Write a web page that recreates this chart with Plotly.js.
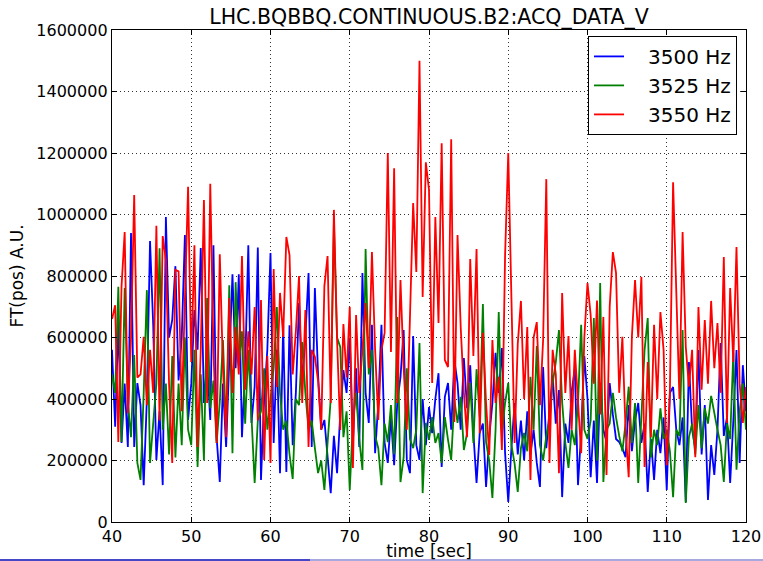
<!DOCTYPE html>
<html>
<head>
<meta charset="utf-8">
<script src="https://cdn.plot.ly/plotly-3.0.1.min.js"></script>
<style>
html,body{margin:0;padding:0;background:#fff;}
#chart{width:763px;height:561px;}
</style>
</head>
<body>
<div id="chart"></div>
<script>
// time axis: samples every 0.4 s starting at 40 s
const tStart = 40;
const tStep = 0.4;

// FT(pos) amplitudes in thousands of A.U.
const hz3500 = [
560,310,650,257,450,244,940,244,452,380,
120,400,914,640,202,360,120,992,600,657,
832,460,600,933,332,450,689,560,891,387,
520,332,900,276,130,450,244,560,806,500,
806,276,500,900,322,440,893,137,400,560,
875,257,560,159,640,163,640,250,420,712,
450,602,810,244,761,480,300,332,220,94,
280,159,350,494,420,598,260,500,244,810,
420,322,641,224,387,641,257,192,340,185,
390,470,624,202,159,605,250,202,400,250,
374,289,400,484,179,407,452,300,527,452,
300,533,370,510,289,127,290,320,114,276,
387,550,420,566,224,65,240,387,220,330,
200,360,220,300,192,114,504,240,360,477,
320,429,81,320,257,423,500,120,290,540,
400,146,330,127,452,300,260,452,350,270,
260,240,211,380,230,330,387,257,320,98,
270,137,300,224,340,104,420,439,300,250,
340,65,520,300,240,559,220,380,72,250,
153,300,582,280,340,127,330,559,192,510,
360];

const hz3525 = [
480,420,765,260,761,387,276,543,192,137,
420,754,192,332,450,890,300,450,220,540,
210,450,250,600,300,250,560,179,480,200,
728,370,460,257,390,592,300,770,224,780,
510,620,320,560,320,127,330,360,500,300,
400,500,699,420,300,330,220,140,400,380,
585,420,300,330,240,159,200,104,257,400,
972,600,569,276,360,104,330,420,270,169,
888,480,560,280,240,120,320,260,380,220,
667,130,210,500,270,240,300,582,94,322,
267,341,257,289,192,341,267,202,397,322,
407,234,289,452,257,497,341,709,260,200,
78,300,683,290,387,452,250,190,98,240,
290,230,472,300,572,250,200,280,330,452,
520,624,390,257,176,300,250,387,641,300,
270,330,663,200,777,130,300,320,420,340,
280,230,320,440,257,387,127,330,559,663,
210,300,250,370,270,300,230,81,300,280,
624,62,276,320,220,380,240,370,320,410,
350,300,250,130,320,270,550,170,360,450,
300];

const hz3550 = [
660,705,260,765,943,354,600,1063,470,480,
602,380,560,420,963,330,930,852,450,192,
820,815,360,740,1090,520,900,244,560,1047,
387,1100,560,257,871,500,276,728,420,634,
480,865,430,620,480,699,330,722,202,540,
192,823,439,745,602,927,868,480,620,800,
387,689,244,560,537,460,300,767,865,387,
1015,592,299,644,470,700,176,673,420,560,
712,500,878,560,332,560,615,1200,553,1150,
387,787,504,300,641,1037,813,1500,732,1170,
1080,452,992,647,1232,527,504,1245,325,933,
634,420,276,855,540,888,289,615,387,218,
592,387,472,234,868,1200,728,257,580,719,
400,634,137,600,650,380,592,1115,192,560,
480,159,745,420,605,300,560,400,224,600,
777,673,450,720,350,667,153,700,878,810,
420,602,300,146,602,787,600,797,179,520,
276,641,400,683,560,185,430,1105,754,400,
943,570,440,560,211,699,430,657,450,719,
500,647,420,862,322,761,520,894,450,322,
439];

const seriesNames = ['3500 Hz', '3525 Hz', '3550 Hz'];
const seriesColors = ['#0000ff', '#008000', '#ff0000'];
const seriesData = [hz3500, hz3525, hz3550];

const xTickVals = [40, 50, 60, 70, 80, 90, 100, 110, 120];
const yTickVals = [0, 200000, 400000, 600000, 800000, 1000000, 1200000, 1400000, 1600000];

const pad = '\u00a0\u00a0\u00a0';
const traces = seriesData.map((arr, k) => ({
  type: 'scatter',
  mode: 'lines',
  name: pad + seriesNames[k],
  x: arr.map((_, i) => tStart + i * tStep),
  y: arr.map(v => v * 1000),
  line: {color: seriesColors[k], width: 1.8},
  hoverinfo: 'skip'
}));

const axisCommon = {
  showline: true, linecolor: '#000', linewidth: 1.2, mirror: 'ticks',
  ticks: 'inside', ticklen: 5, tickcolor: '#000', tickwidth: 1,
  showgrid: true, gridcolor: '#000', gridwidth: 0.8, griddash: '1px,3px',
  zeroline: false, tickfont: {size: 16, color: '#000'}
};

const layout = {
  width: 763, height: 561,
  margin: {l: 112, r: 17, t: 30, b: 39, pad: 0},
  paper_bgcolor: '#fff', plot_bgcolor: '#fff',
  font: {family: 'DejaVu Sans', color: '#000'},
  showlegend: true,
  title: {text: 'LHC.BQBBQ.CONTINUOUS.B2:ACQ_DATA_V', font: {size: 20.5, color: '#000'},
          x: 0.5, xref: 'paper', xanchor: 'center', y: (561 - 17) / 561, yref: 'container', yanchor: 'middle'},
  xaxis: Object.assign({}, axisCommon, {
    range: [40, 120], tickvals: xTickVals, ticktext: xTickVals.map(String),
    title: {text: 'time [sec]', font: {size: 17}, standoff: 5}
  }),
  yaxis: Object.assign({}, axisCommon, {
    range: [0, 1600000], tickvals: yTickVals, ticktext: yTickVals.map(String),
    title: {text: 'FT(pos) A.U.', font: {size: 17}, standoff: 8}
  }),
  legend: {
    x: 0.9858, xanchor: 'right', y: 0.988, yanchor: 'top',
    bgcolor: '#fff', bordercolor: '#000', borderwidth: 1,
    font: {size: 20}, itemwidth: 30, tracegroupgap: 0
  },
  shapes: [
    {type: 'rect', xref: 'paper', yref: 'paper', x0: -112 / 634, x1: 198 / 634,
     y0: -37 / 492, y1: -39 / 492, line: {width: 0}, fillcolor: '#4646c8', layer: 'above'},
    {type: 'rect', xref: 'paper', yref: 'paper', x0: 198 / 634, x1: 651 / 634,
     y0: -37 / 492, y1: -39 / 492, line: {width: 0}, fillcolor: '#a8a8e0', layer: 'above'}
  ]
};

Plotly.newPlot('chart', traces, layout, {displayModeBar: false, staticPlot: true});
</script>
</body>
</html>
